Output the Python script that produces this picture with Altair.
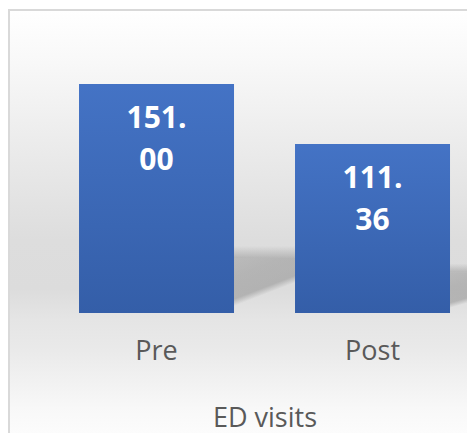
import altair as alt
import pandas as pd

# ---- data ----
categories = ["Pre", "Post"]
values = [151.00, 111.36]
group_title = "ED visits"

df = pd.DataFrame({"period": categories, "value": values})
bg_df = pd.DataFrame({"k": [0]})

W, H = 459, 305
PAD_B = 120
FONT = "Open Sans"
GREY = "#595959"


def stop(o, c):
    return alt.GradientStop(offset=o, color=c)


bg_grad = alt.Gradient(
    gradient="linear", x1=0, x2=0, y1=0, y2=1,
    stops=[
        stop(0.0, "#ffffff"), stop(0.12, "#f8f8f8"), stop(0.25, "#efefef"),
        stop(0.52, "#dddddd"), stop(0.63, "#dcdcdc"), stop(0.70, "#e5e5e5"),
        stop(0.76, "#e9e9e9"), stop(0.90, "#f8f8f8"), stop(1.0, "#ffffff"),
    ],
)
bar_grad = alt.Gradient(
    gradient="linear", x1=0, x2=0, y1=0, y2=1,
    stops=[stop(0.0, "#4473c5"), stop(1.0, "#345ea8")],
)
shadow_grad = alt.Gradient(
    gradient="linear", x1=1, y1=1, x2=0.474, y2=-0.207,
    stops=[
        stop(0.0, "rgba(120,120,120,0)"),
        stop(0.39, "rgba(120,120,120,0)"),
        stop(0.48, "rgba(120,120,120,0.42)"),
        stop(0.75, "rgba(120,120,120,0.40)"),
        stop(1.0, "rgba(120,120,120,0.34)"),
    ],
)
fade_grad = alt.Gradient(
    gradient="linear", x1=0, x2=0, y1=0, y2=1,
    stops=[stop(0.0, "rgba(120,120,120,0)"), stop(1.0, "rgba(120,120,120,0.38)")],
)

x_enc = alt.X(
    "period:N", sort=categories,
    scale=alt.Scale(paddingInner=0.2824, paddingOuter=0.2037, align=0.807),
    axis=alt.Axis(
        title=group_title, labelAngle=0, domain=False, ticks=False, tickSize=0,
        grid=False, labelFont=FONT, labelFontSize=27, labelColor=GREY,
        labelBaseline="middle", labelPadding=38,
        titleFont=FONT, titleFontSize=27, titleFontWeight="normal",
        titleColor=GREY, titlePadding=41, titleX=256.5, titleAlign="center",
        zindex=1,
    ),
)
y_scale = alt.Scale(domain=[0, 201.1])
shadow_x = alt.X(
    "period:N", sort=categories,
    scale=alt.Scale(range=[226, 504], paddingInner=0.713, paddingOuter=0),
    axis=None,
)

bg = alt.Chart(bg_df).mark_rect(
    fill=bg_grad, stroke="#d9d9d9", strokeWidth=2
).encode(
    x=alt.value(1), x2=alt.value(W + 20),
    y=alt.value(2), y2=alt.value(H + PAD_B + 20),
)

shadow_base = alt.Chart(df).transform_calculate(
    s_top="datum.value * 0.24", f_top="datum.value * 0.293"
)
shadow = shadow_base.mark_bar(fill=shadow_grad).encode(
    x=shadow_x,
    y=alt.Y("s_top:Q", scale=y_scale, axis=None),
    y2=alt.datum(0),
)
fade = shadow_base.mark_bar(fill=fade_grad).encode(
    x=shadow_x,
    y=alt.Y("f_top:Q", scale=y_scale, axis=None),
    y2="s_top:Q",
)

bars = alt.Chart(df).mark_bar(color=bar_grad).encode(
    x=x_enc,
    y=alt.Y("value:Q", scale=y_scale, axis=None),
)

labels = alt.Chart(df).transform_calculate(
    label="replace(format(datum.value, '.2f'), '.', '.\\n')"
).mark_text(
    color="white", fontWeight="bold", fontSize=30, font=FONT,
    baseline="top", dy=20, lineBreak="\n", lineHeight=42,
).encode(
    x=x_enc,
    y=alt.Y("value:Q", scale=y_scale, axis=None),
    text="label:N",
)

back = alt.layer(shadow, fade)
main = alt.layer(bars, labels)

chart = alt.layer(bg, back, main).resolve_scale(x="independent").properties(
    width=W, height=H,
    autosize=alt.AutoSizeParams(type="none"),
    padding={"left": 0, "top": 0, "right": 0, "bottom": PAD_B},
).configure_view(stroke=None)

chart.save("out.html", embed_options={"renderer": "svg", "actions": False})
